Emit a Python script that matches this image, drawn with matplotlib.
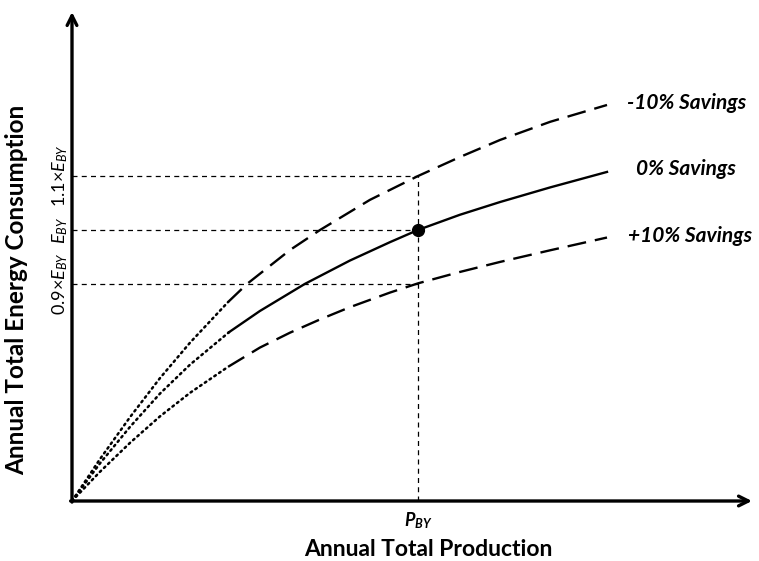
import matplotlib
matplotlib.use("Agg")
import matplotlib.pyplot as plt

plt.rcParams['font.family'] = ['Lato', 'DejaVu Sans']
plt.rcParams['mathtext.fontset'] = 'custom'
plt.rcParams['mathtext.rm'] = 'Lato'
plt.rcParams['mathtext.it'] = 'Lato:italic'
plt.rcParams['mathtext.bf'] = 'Lato:bold'
plt.rcParams['mathtext.bfit'] = 'Lato:bold:italic'

# ---- data (P_BY = 1, E_BY = 1) ----
x_zero = [0, 0.081, 0.168, 0.254, 0.341, 0.454, 0.543, 0.673, 0.803, 0.919, 1.0, 1.121, 1.237, 1.382, 1.546]
y_zero = [0, 0.139, 0.274, 0.396, 0.503, 0.623, 0.701, 0.801, 0.887, 0.955, 1.0, 1.056, 1.103, 1.157, 1.214]

x_minus = [0, 0.081, 0.168, 0.254, 0.341, 0.451, 0.506, 0.630, 0.717, 0.861, 1.0, 1.121, 1.237, 1.382, 1.546]
y_minus = [0, 0.155, 0.310, 0.453, 0.584, 0.734, 0.801, 0.926, 1.0, 1.111, 1.199, 1.269, 1.332, 1.399, 1.461]

x_plus = [0, 0.081, 0.168, 0.254, 0.341, 0.451, 0.543, 0.630, 0.717, 0.803, 0.919, 1.0, 1.121, 1.237, 1.382, 1.546]
y_plus = [0, 0.108, 0.215, 0.312, 0.399, 0.495, 0.566, 0.621, 0.670, 0.715, 0.769, 0.803, 0.845, 0.882, 0.925, 0.972]

split_x = 0.455                      # where the dotted part ends
level_vals = [0.801, 1.0, 1.2]       # 0.9xE_BY, E_BY, 1.1xE_BY
level_labels = [r'0.9×$\mathit{E}_{\mathit{BY}}$', r'$\mathit{E}_{\mathit{BY}}$',
                r'1.1×$\mathit{E}_{\mathit{BY}}$']
p_by = 1.0
point = (1.0, 1.0)
series_labels = ['-10% Savings', '0% Savings', '+10% Savings']

xmax, ymax = 1.965, 1.804

fig = plt.figure(figsize=(7.59, 5.61), dpi=100)
ax = fig.add_axes([72/759, 60/561, 680/759, 489/561])
ax.set_xlim(0, xmax)
ax.set_ylim(0, ymax)
for s in ax.spines.values():
    s.set_visible(False)
ax.set_xticks([])
ax.set_yticks([])

def split(xs, ys):
    n = len([x for x in xs if x <= split_x])
    return xs[:n], ys[:n], xs[n-1:], ys[n-1:]

dot_style = dict(color='black', lw=1.8, linestyle=(0, (0.7, 1.6)), dash_capstyle='round')
long_dash = (0, (8, 3.8))

for xs, ys, style in [(x_minus, y_minus, long_dash), (x_zero, y_zero, '-'), (x_plus, y_plus, long_dash)]:
    ax_, ay_, bx_, by_ = split(xs, ys)
    ax.plot(ax_, ay_, **dot_style)
    ax.plot(bx_, by_, color='black', lw=1.7, linestyle=style)

# guide lines
guide = dict(color='black', lw=0.9, linestyle=(0, (4, 3.4)))
for lv in level_vals:
    ax.plot([0, p_by], [lv, lv], **guide)
ax.plot([p_by, p_by], [0, level_vals[2]], **guide)

ax.plot([point[0]], [point[1]], 'o', color='black', markersize=8.5)

# axes arrows
arr = dict(arrowstyle='->,head_length=0.7,head_width=0.35', lw=2.4, color='black',
           shrinkA=0, shrinkB=0)
ax.annotate('', xy=(xmax, 0), xytext=(-0.004, 0), arrowprops=arr, annotation_clip=False)
ax.annotate('', xy=(0, ymax), xytext=(0, -0.004), arrowprops=arr, annotation_clip=False)

# series labels
lab_kw = dict(fontsize=15, fontweight='bold', fontstyle='italic', ha='left', va='center')
ax.text(1.604, 1.469, series_labels[0], **lab_kw)
ax.text(1.630, 1.225, series_labels[1], **lab_kw)
ax.text(1.607, 0.978, series_labels[2], **lab_kw)

# y level labels (rotated)
for lv, lab in zip(level_vals, level_labels):
    ax.text(-0.034, lv, lab, rotation=90, fontsize=13, ha='center', va='center')

# x label at P_BY
ax.text(p_by, -0.074, r'$\mathbfit{P}_{\mathbfit{BY}}$', fontsize=13, ha='center', va='center')

fig.text(428/759, 1 - 549/561, 'Annual Total Production', fontsize=16.5, fontweight='bold',
         ha='center', va='center')
fig.text(17/759, 1 - 290/561, 'Annual Total Energy Consumption', fontsize=17.5,
         fontweight='bold', rotation=90, ha='center', va='center')

fig.savefig('out.png', dpi=100)
